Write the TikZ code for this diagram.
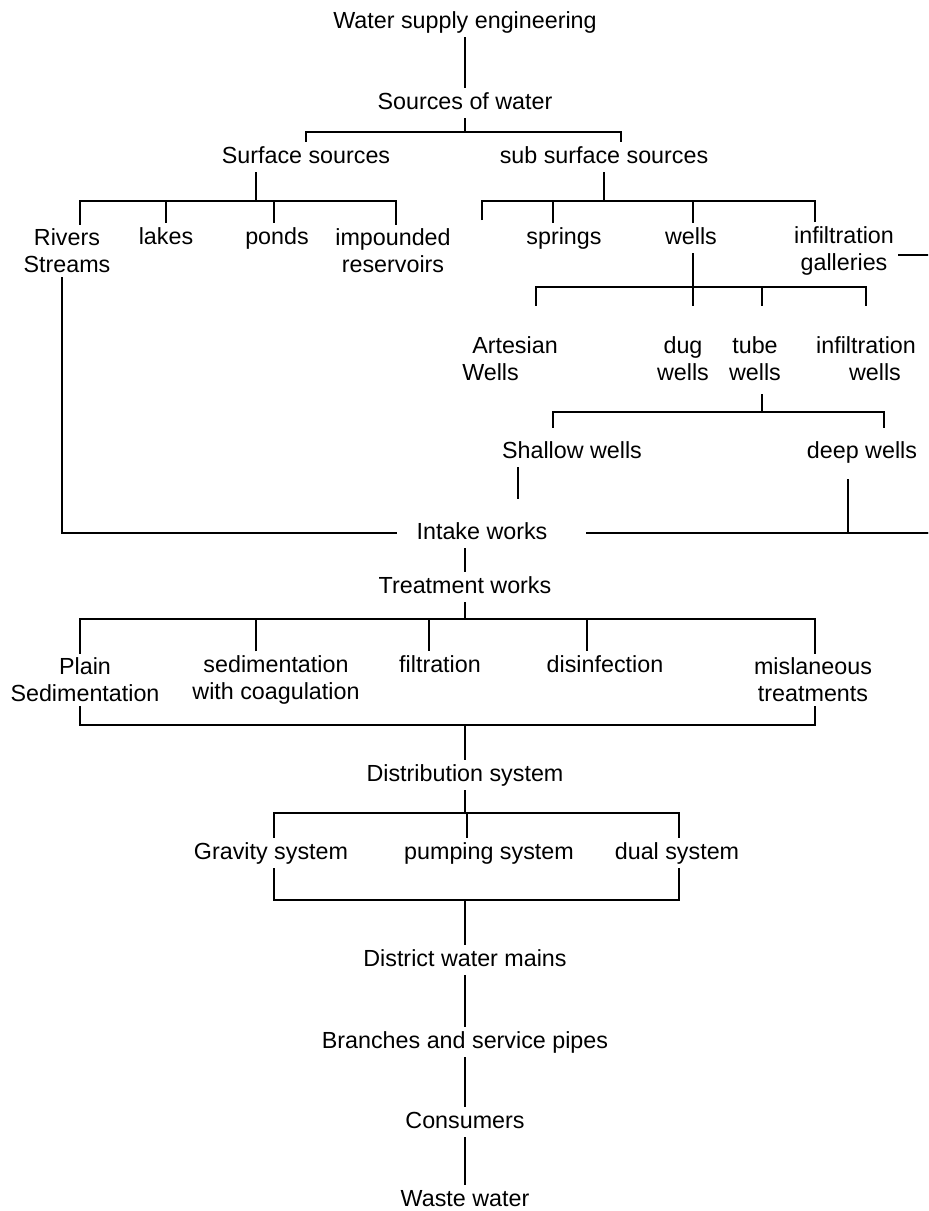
\documentclass[tikz,border=0pt]{standalone}
\usepackage{fontspec}
\setmainfont{Liberation Sans}
\begin{document}
\begin{tikzpicture}[x=0.5pt,y=-0.5pt,
                lbl/.style={font=\fontsize{11.65}{13.5}\selectfont, inner xsep=2pt, inner ysep=2pt, text height=8.5pt, text depth=2.5pt},
                lbltwo/.style={font=\fontsize{11.65}{13.5}\selectfont, inner xsep=2pt, inner ysep=2pt, align=center},
                link/.style={line width=0.9pt}]
                \useasboundingbox (0,0) rectangle (928,1211);
                \clip (0,0) rectangle (928,1211);
                \node[lbl] (water) at (465,22) {Water supply engineering};
                \node[lbl] (sources) at (465,103) {Sources of water};
                \node[lbl] (surface) at (306,157) {Surface sources};
                \node[lbl] (subsurf) at (604,157) {sub surface sources};
                \node[lbltwo] (rivers) at (67,251) {Rivers\\Streams};
                \node[lbl] (lakes) at (166,238) {lakes};
                \node[lbl] (ponds) at (277,238) {ponds};
                \node[lbltwo] (impounded) at (393,251) {impounded\\reservoirs};
                \node[lbl] (springs) at (564,238) {springs};
                \node[lbl] (wells) at (691,238) {wells};
                \node[lbltwo] (galleries) at (844,251) {infiltration\\galleries};
                \node[lbltwo, align=left] (artesian) at (510,359) {\hspace*{5pt}Artesian\\Wells};
                \node[lbltwo] (dug) at (683,359) {dug\\wells};
                \node[lbltwo] (tube) at (755,359) {tube\\wells};
                \node[lbltwo] (infwells) at (866,359) {infiltration\\\hspace*{9pt}wells};
                \node[lbl] (shallow) at (572,452) {Shallow wells};
                \node[lbl] (deep) at (862,452) {deep wells};
                \node[lbl] (intake) at (482,533) {Intake works};
                \node[lbl] (treatment) at (465,587) {Treatment works};
                \node[lbltwo] (plain) at (85,680) {Plain\\Sedimentation};
                \node[lbltwo] (sedcoag) at (276,680) {sedimentation\\with coagulation};
                \node[lbl] (filtration) at (440,666) {filtration};
                \node[lbl] (disinfection) at (605,666) {disinfection};
                \node[lbltwo] (misc) at (813,680) {mislaneous\\treatments};
                \node[lbl] (distribution) at (465,775) {Distribution system};
                \node[lbl] (gravity) at (271,853) {Gravity system};
                \node[lbl] (pumping) at (489,853) {pumping system};
                \node[lbl] (dual) at (677,853) {dual system};
                \node[lbl] (district) at (465,960) {District water mains};
                \node[lbl] (branches) at (465,1042) {Branches and service pipes};
                \node[lbl] (consumers) at (465,1122) {Consumers};
                \node[lbl] (waste) at (465,1200) {Waste water};

                \coordinate (srcbar) at (465,132);
                \draw[link] (water) -- (sources);
                \draw[link] (sources) -- (srcbar);
                \draw[link] (surface) |- (srcbar);
                \draw[link] ([xshift=8.5pt]subsurf.north) |- (srcbar);

                \coordinate (surfbar) at (256,201);
                \draw[link] ([xshift=-25pt]surface.south) -- (surfbar);
                \draw[link] ([xshift=6.5pt]rivers.north) |- (surfbar);
                \draw[link] (lakes) |- (surfbar);
                \draw[link] ([xshift=-1.5pt]ponds.north) |- (surfbar);
                \draw[link] ([xshift=1.5pt]impounded.north) |- (surfbar);

                \coordinate (subbar) at (604,201);
                \coordinate (subfree) at (482,220);
                \draw[link] (subsurf) -- (subbar);
                \draw[link] (subfree) |- (subbar);
                \draw[link] ([xshift=-5.5pt]springs.north) |- (subbar);
                \draw[link] ([xshift=1pt]wells.north) |- (subbar);
                \draw[link] ([xshift=-14.5pt]galleries.north) |- (subbar);

                \coordinate (wellbar) at (693,287);
                \draw[link, shorten >=13.5pt] ([xshift=1pt]wells.south) -- ([xshift=5pt]dug.north);
                \draw[link, shorten <=13.5pt] ([xshift=13pt]artesian.north) |- (wellbar);
                \draw[link, shorten <=13.5pt] ([xshift=3.5pt]tube.north) |- (wellbar);
                \draw[link, shorten <=13.5pt] (infwells) |- (wellbar);

                \coordinate (tubebar) at (762,412);
                \draw[link, shorten <=4.5pt] ([xshift=3.5pt]tube.south) -- (tubebar);
                \draw[link, shorten <=4.5pt] ([xshift=-9.5pt]shallow.north) |- (tubebar);
                \draw[link, shorten <=4.5pt] ([xshift=11pt]deep.north) |- (tubebar);

                \coordinate (shallowend) at (518,499);
                \coordinate (railbot) at (945,533);
                \draw[link] ([xshift=-27pt]shallow.south) -- (shallowend);
                \draw[link, shorten <=6pt] ([xshift=-7pt]deep.south) |- (railbot);
                \draw[link] ([yshift=-2pt]galleries.east) -| (railbot) -- ([xshift=17pt]intake.east);
                \draw[link] ([xshift=-2.5pt]rivers.south) |- ([xshift=-7.5pt]intake.west);

                \draw[link] ([xshift=-8.5pt]intake.south) -- (treatment);
                \coordinate (treatbar) at (465,619);
                \draw[link] (treatment) -- (treatbar);
                \draw[link] ([xshift=-2.5pt]plain.north) |- (treatbar);
                \draw[link] ([xshift=-10pt]sedcoag.north) |- (treatbar);
                \draw[link] ([xshift=-5.5pt]filtration.north) |- (treatbar);
                \draw[link] ([xshift=-9pt]disinfection.north) |- (treatbar);
                \draw[link] ([xshift=1pt]misc.north) |- (treatbar);
                \coordinate (treatjoin) at (465,725);
                \draw[link] ([xshift=-2.5pt]plain.south) |- (treatjoin);
                \draw[link] ([xshift=1pt]misc.south) |- (treatjoin);
                \draw[link] (treatjoin) -- (distribution);

                \coordinate (distbar) at (465,813);
                \draw[link] (distribution) -- (distbar);
                \draw[link] ([xshift=1.5pt]gravity.north) |- (distbar);
                \draw[link] ([xshift=-11pt]pumping.north) |- (distbar);
                \draw[link] ([xshift=1pt]dual.north) |- (distbar);
                \coordinate (distjoin) at (465,900);
                \draw[link] ([xshift=1.5pt]gravity.south) |- (distjoin);
                \draw[link] ([xshift=1pt]dual.south) |- (distjoin);
                \draw[link] (distjoin) -- (district);
                \draw[link] (district) -- (branches);
                \draw[link] (branches) -- (consumers);
                \draw[link] (consumers) -- (waste);
            \end{tikzpicture}
\end{document}
